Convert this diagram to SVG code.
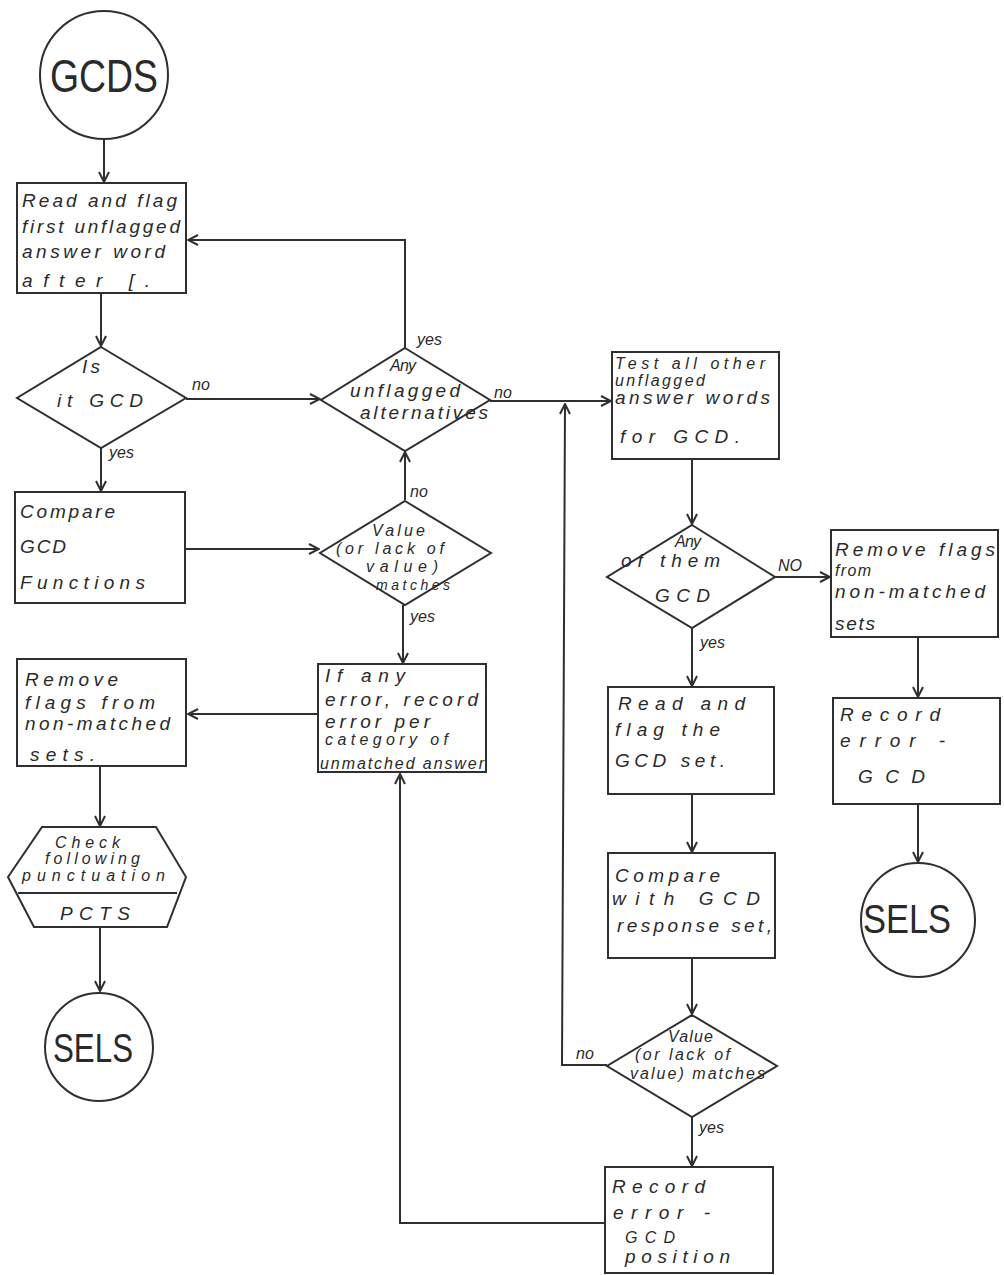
<svg xmlns="http://www.w3.org/2000/svg" width="1004" height="1275" viewBox="0 0 1004 1275">
  <style>
    .shape { fill: none; stroke: #2f2f2f; stroke-width: 2; }
    .conn { fill: none; stroke: #2f2f2f; stroke-width: 2; }
    text { font-family: "Liberation Sans", "DejaVu Sans", sans-serif; fill: #2a2a2a; font-style: italic; }
    .t { font-size: 19px; }
    .s { font-size: 16px; }
    .xs { font-size: 14px; }
    .lbl { font-size: 16px; }
    .big { font-size: 46px; font-style: normal; }
    .mid { font-size: 40px; font-style: normal; }
  </style>
  <defs>
    <marker id="arr" viewBox="0 0 12 12" refX="11" refY="6" markerWidth="12" markerHeight="12" markerUnits="userSpaceOnUse" orient="auto">
      <path d="M1,1 L11,6 L1,11" fill="none" stroke="#2f2f2f" stroke-width="2"/>
    </marker>
  </defs>
  <rect width="1004" height="1275" fill="#ffffff"/>

  <!-- connectors -->
  <g id="connectors" class="conn">
    <path d="M104,139 L104,182" marker-end="url(#arr)"/>
    <path d="M101,293 L101,346" marker-end="url(#arr)"/>
    <path d="M186,399 L320,399" marker-end="url(#arr)"/>
    <path d="M405,348 L405,240 L188,240" marker-end="url(#arr)"/>
    <path d="M490,401 L611,401" marker-end="url(#arr)"/>
    <path d="M101,448 L101,491" marker-end="url(#arr)"/>
    <path d="M185,549 L319,549" marker-end="url(#arr)"/>
    <path d="M405,500 L405,452" marker-end="url(#arr)"/>
    <path d="M403,605 L403,663" marker-end="url(#arr)"/>
    <path d="M318,714 L188,714" marker-end="url(#arr)"/>
    <path d="M100,766 L100,826" marker-end="url(#arr)"/>
    <path d="M100,927 L100,991" marker-end="url(#arr)"/>
    <path d="M692,459 L692,524" marker-end="url(#arr)"/>
    <path d="M775,577 L830,577" marker-end="url(#arr)"/>
    <path d="M692,628 L692,686" marker-end="url(#arr)"/>
    <path d="M918,637 L918,697" marker-end="url(#arr)"/>
    <path d="M918,804 L918,862" marker-end="url(#arr)"/>
    <path d="M692,794 L692,852" marker-end="url(#arr)"/>
    <path d="M692,958 L692,1014" marker-end="url(#arr)"/>
    <path d="M692,1117 L692,1166" marker-end="url(#arr)"/>
    <path d="M607,1065 L562,1065 L565,404" marker-end="url(#arr)"/>
    <path d="M605,1223 L400,1223 L400,774" marker-end="url(#arr)"/>
  </g>

  <!-- edge labels -->
  <g id="edge-labels">
    <text class="lbl" x="192" y="390">no</text>
    <text class="lbl" x="109" y="458">yes</text>
    <text class="lbl" x="417" y="345">yes</text>
    <text class="lbl" x="494" y="398">no</text>
    <text class="lbl" x="410" y="497">no</text>
    <text class="lbl" x="410" y="622">yes</text>
    <text class="lbl" x="778" y="571">NO</text>
    <text class="lbl" x="700" y="648">yes</text>
    <text class="lbl" x="576" y="1059">no</text>
    <text class="lbl" x="699" y="1133">yes</text>
  </g>

  <!-- start terminal -->
  <g id="gcds">
    <circle class="shape" cx="104" cy="75" r="64"/>
    <text class="big" x="50" y="92" textLength="108" lengthAdjust="spacingAndGlyphs">GCDS</text>
  </g>

  <g id="read-flag-first">
    <rect class="shape" x="17" y="183" width="169" height="110"/>
    <text class="t" x="22" y="207" textLength="155" lengthAdjust="spacing">Read and flag</text>
    <text class="t" x="22" y="233" textLength="158" lengthAdjust="spacing">first unflagged</text>
    <text class="t" x="22" y="258" textLength="143" lengthAdjust="spacing">answer word</text>
    <text class="t" x="22" y="287" textLength="128" lengthAdjust="spacing">after [.</text>
  </g>

  <g id="is-it-gcd">
    <polygon class="shape" points="101,347 186,398 101,448 17,398"/>
    <text class="t" x="82" y="373" textLength="18" lengthAdjust="spacing">Is</text>
    <text class="t" x="57" y="407" textLength="86" lengthAdjust="spacing">it GCD</text>
  </g>

  <g id="any-unflagged">
    <polygon class="shape" points="405,348 490,400 405,451 321,400"/>
    <text class="s" x="390" y="371" textLength="26" lengthAdjust="spacing">Any</text>
    <text class="t" x="350" y="397" textLength="110" lengthAdjust="spacing">unflagged</text>
    <text class="t" x="360" y="419" textLength="128" lengthAdjust="spacing">alternatives</text>
  </g>

  <g id="compare-functions">
    <rect class="shape" x="15" y="492" width="170" height="111"/>
    <text class="t" x="20" y="518" textLength="95" lengthAdjust="spacing">Compare</text>
    <text class="t" x="20" y="553" textLength="46" lengthAdjust="spacing">GCD</text>
    <text class="t" x="20" y="589" textLength="125" lengthAdjust="spacing">Functions</text>
  </g>

  <g id="value-matches-1">
    <polygon class="shape" points="405,501 491,553 405,605 320,553"/>
    <text class="s" x="372" y="536" textLength="53" lengthAdjust="spacing">Value</text>
    <text class="s" x="336" y="554" textLength="108" lengthAdjust="spacing">(or lack of</text>
    <text class="s" x="366" y="572" textLength="72" lengthAdjust="spacing">value)</text>
    <text class="xs" x="376" y="590" textLength="74" lengthAdjust="spacing">matches</text>
  </g>

  <g id="if-any-error">
    <rect class="shape" x="318" y="664" width="168" height="108"/>
    <text class="t" x="325" y="682" textLength="80" lengthAdjust="spacing">If any</text>
    <text class="t" x="325" y="706" textLength="153" lengthAdjust="spacing">error, record</text>
    <text class="t" x="325" y="728" textLength="105" lengthAdjust="spacing">error per</text>
    <text class="s" x="325" y="745" textLength="123" lengthAdjust="spacing">category of</text>
    <text class="s" x="320" y="769" textLength="164" lengthAdjust="spacing">unmatched answer</text>
  </g>

  <g id="remove-flags-left">
    <rect class="shape" x="17" y="659" width="169" height="107"/>
    <text class="t" x="25" y="686" textLength="93" lengthAdjust="spacing">Remove</text>
    <text class="t" x="25" y="709" textLength="130" lengthAdjust="spacing">flags from</text>
    <text class="t" x="25" y="730" textLength="145" lengthAdjust="spacing">non-matched</text>
    <text class="t" x="30" y="761" textLength="65" lengthAdjust="spacing">sets.</text>
  </g>

  <g id="check-punctuation">
    <polygon class="shape" points="42,827 156,827 186,877 167,927 34,927 8,877"/>
    <line class="shape" x1="18" y1="893" x2="177" y2="893"/>
    <text class="s" x="55" y="848" textLength="65" lengthAdjust="spacing">Check</text>
    <text class="s" x="45" y="864" textLength="95" lengthAdjust="spacing">following</text>
    <text class="s" x="22" y="881" textLength="143" lengthAdjust="spacing">punctuation</text>
    <text class="t" x="60" y="920" textLength="70" lengthAdjust="spacing" font-style="normal">PCTS</text>
  </g>

  <g id="sels-left">
    <circle class="shape" cx="99" cy="1047" r="54"/>
    <text class="mid" x="53" y="1062" textLength="80" lengthAdjust="spacingAndGlyphs">SELS</text>
  </g>

  <g id="test-other-words">
    <rect class="shape" x="612" y="352" width="167" height="107"/>
    <text class="s" x="615" y="369" textLength="150" lengthAdjust="spacing">Test all other</text>
    <text class="s" x="615" y="386" textLength="90" lengthAdjust="spacing">unflagged</text>
    <text class="t" x="615" y="404" textLength="155" lengthAdjust="spacing">answer words</text>
    <text class="t" x="620" y="443" textLength="120" lengthAdjust="spacing">for GCD.</text>
  </g>

  <g id="any-of-them-gcd">
    <polygon class="shape" points="692,525 775,577 692,628 607,577"/>
    <text class="s" x="675" y="547" textLength="26" lengthAdjust="spacing">Any</text>
    <text class="t" x="621" y="567" textLength="99" lengthAdjust="spacing">of them</text>
    <text class="t" x="655" y="602" textLength="55" lengthAdjust="spacing">GCD</text>
  </g>

  <g id="remove-flags-right">
    <rect class="shape" x="831" y="530" width="167" height="107"/>
    <text class="t" x="835" y="556" textLength="160" lengthAdjust="spacing">Remove flags</text>
    <text class="s" x="835" y="576" textLength="36" lengthAdjust="spacing">from</text>
    <text class="t" x="835" y="598" textLength="150" lengthAdjust="spacing">non-matched</text>
    <text class="t" x="835" y="630" textLength="40" lengthAdjust="spacing">sets</text>
  </g>

  <g id="read-flag-set">
    <rect class="shape" x="608" y="687" width="166" height="107"/>
    <text class="t" x="618" y="710" textLength="127" lengthAdjust="spacing">Read and</text>
    <text class="t" x="615" y="736" textLength="105" lengthAdjust="spacing">flag the</text>
    <text class="t" x="615" y="767" textLength="110" lengthAdjust="spacing">GCD set.</text>
  </g>

  <g id="record-error-gcd">
    <rect class="shape" x="833" y="698" width="167" height="106"/>
    <text class="t" x="840" y="721" textLength="100" lengthAdjust="spacing">Record</text>
    <text class="t" x="840" y="747" textLength="105" lengthAdjust="spacing">error -</text>
    <text class="t" x="858" y="783" textLength="67" lengthAdjust="spacing" font-size="24" font-style="normal">GCD</text>
  </g>

  <g id="sels-right">
    <circle class="shape" cx="918" cy="920" r="57"/>
    <text class="mid" x="863" y="933" textLength="88" lengthAdjust="spacingAndGlyphs" font-size="34">SELS</text>
  </g>

  <g id="compare-response">
    <rect class="shape" x="608" y="853" width="167" height="105"/>
    <text class="t" x="615" y="882" textLength="105" lengthAdjust="spacing">Compare</text>
    <text class="t" x="612" y="905" textLength="148" lengthAdjust="spacing">with GCD</text>
    <text class="t" x="617" y="932" textLength="155" lengthAdjust="spacing">response set,</text>
  </g>

  <g id="value-matches-2">
    <polygon class="shape" points="692,1015 777,1066 692,1117 607,1066"/>
    <text class="s" x="668" y="1042" textLength="45" lengthAdjust="spacing">Value</text>
    <text class="s" x="635" y="1060" textLength="95" lengthAdjust="spacing">(or lack of</text>
    <text class="s" x="630" y="1079" textLength="135" lengthAdjust="spacing">value) matches</text>
  </g>

  <g id="record-position">
    <rect class="shape" x="605" y="1167" width="168" height="106"/>
    <text class="t" x="612" y="1193" textLength="93" lengthAdjust="spacing">Record</text>
    <text class="t" x="613" y="1219" textLength="97" lengthAdjust="spacing">error -</text>
    <text class="s" x="625" y="1243" textLength="50" lengthAdjust="spacing">GCD</text>
    <text class="t" x="625" y="1263" textLength="105" lengthAdjust="spacing">position</text>
  </g>
</svg>
